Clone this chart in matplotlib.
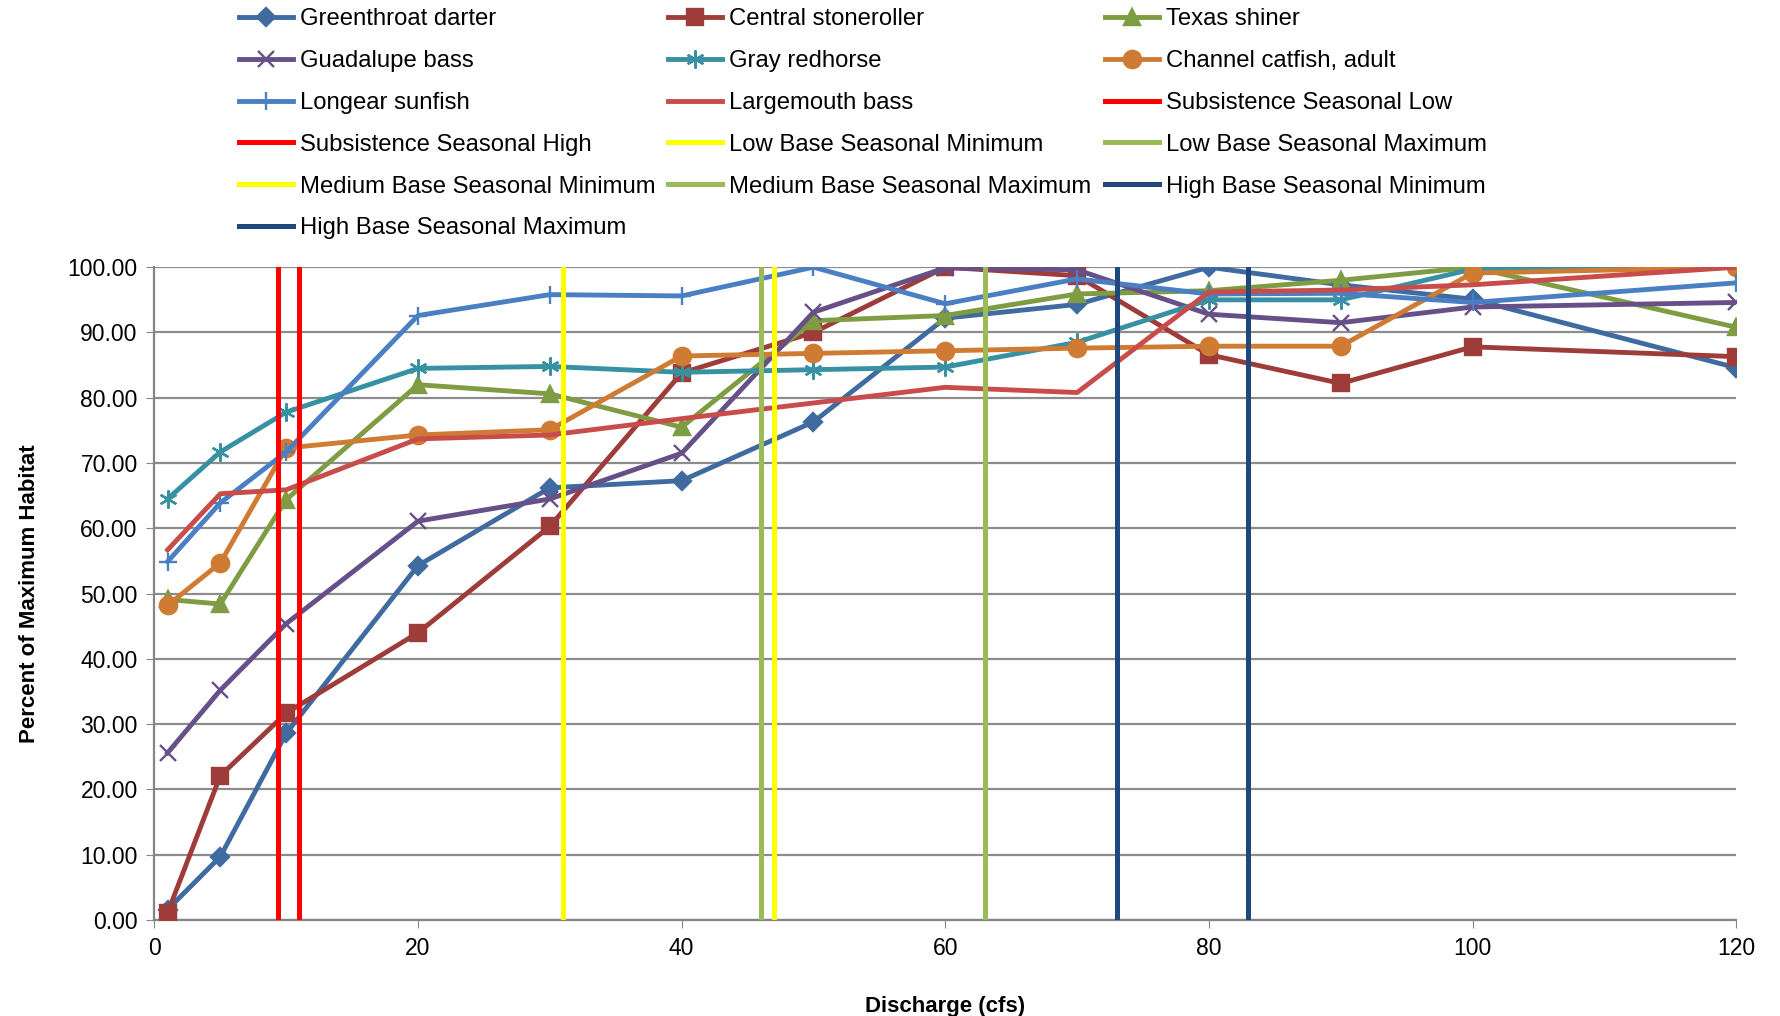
import matplotlib.pyplot as plt

plt.rcParams['font.family'] = ['Liberation Sans', 'DejaVu Sans']

discharge = [1, 5, 10, 20, 30, 40, 50, 60, 70, 80, 90, 100, 120]

greenthroat_darter = [1.6, 9.7, 28.6, 54.3, 66.2, 67.3, 76.3, 92.2, 94.3, 100.0, 97.3, 95.1, 84.6]
central_stoneroller = [1.1, 22.1, 31.7, 44.0, 60.3, 83.8, 90.0, 100.0, 98.7, 86.6, 82.2, 87.8, 86.3]
texas_shiner = [49.1, 48.4, 64.4, 82.0, 80.6, 75.5, 91.8, 92.6, 95.9, 96.4, 98.0, 100.0, 90.8]
guadalupe_bass = [25.6, 35.2, 45.4, 61.1, 64.5, 71.5, 93.1, 99.9, 99.6, 92.8, 91.5, 93.9, 94.6]
gray_redhorse = [64.5, 71.7, 77.8, 84.5, 84.8, 83.9, 84.3, 84.7, 88.5, 95.0, 95.0, 99.7, 100.0]
channel_catfish = [48.2, 54.7, 72.3, 74.3, 75.1, 86.4, 86.8, 87.2, 87.6, 87.9, 87.9, 99.1, 100.0]
longear_sunfish = [54.9, 63.9, 71.7, 92.6, 95.8, 95.6, 100.0, 94.4, 98.2, 95.9, 96.0, 94.6, 97.6]
largemouth_bass = [56.7, 65.3, 65.9, 73.7, 74.3, 76.8, 79.2, 81.6, 80.8, 96.2, 96.5, 97.3, 100.0]

species_names = ['Greenthroat darter', 'Central stoneroller', 'Texas shiner',
                 'Guadalupe bass', 'Gray redhorse', 'Channel catfish, adult',
                 'Longear sunfish', 'Largemouth bass']
species_values = [greenthroat_darter, central_stoneroller, texas_shiner,
                  guadalupe_bass, gray_redhorse, channel_catfish,
                  longear_sunfish, largemouth_bass]
species_colors = ['#3F6BA1', '#9E3C3A', '#7E9C42', '#674F88',
                  '#3890A3', '#D07B34', '#4A80C3', '#C84C4A']
species_markers = ['D', 's', '^', 'x', (6, 2, 0), 'o', '+', None]
marker_sizes = [9.5, 11.5, 11.5, 12, 13, 12.5, 13, 0]

flow_names = ['Subsistence Seasonal Low', 'Subsistence Seasonal High',
              'Low Base Seasonal Minimum', 'Low Base Seasonal Maximum',
              'Medium Base Seasonal Minimum', 'Medium Base Seasonal Maximum',
              'High Base Seasonal Minimum', 'High Base Seasonal Maximum']
flow_values = [9.4, 11, 31, 46, 47, 63, 73, 83]
flow_colors = ['#FF0000', '#FF0000', '#FFFF00', '#9BBB59',
               '#FFFF00', '#9BBB59', '#1F497D', '#1F497D']

fig = plt.figure(figsize=(17.81, 10.16), dpi=100)
ax = fig.add_axes([0.0867, 0.0945, 0.8881, 0.6425])

handles = []
for name, vals, c, m, ms in zip(species_names, species_values, species_colors,
                                species_markers, marker_sizes):
    h, = ax.plot(discharge, vals, color=c, lw=3.5, marker=m, markersize=ms,
                 markeredgewidth=1.7, label=name, zorder=3)
    handles.append(h)

for name, v, c in zip(flow_names, flow_values, flow_colors):
    h, = ax.plot([v, v], [0, 100], color=c, lw=3.6, label=name, zorder=4)
    handles.append(h)

ax.set_xlim(0, 120)
ax.set_ylim(0, 100)
ax.set_xticks(range(0, 121, 20))
ax.set_yticks(range(0, 101, 10))
ax.set_yticklabels([f'{v:.2f}' for v in range(0, 101, 10)])
ax.tick_params(labelsize=16.5, length=6, color='#868686', pad=6)
ax.grid(axis='y', color='#8C8C8C', lw=1.6)
ax.set_axisbelow(True)
for s in ['top', 'right']:
    ax.spines[s].set_visible(False)
for s in ['left', 'bottom']:
    ax.spines[s].set_color('#868686')
    ax.spines[s].set_linewidth(1.6)

ax.set_xlabel('Discharge (cfs)', fontsize=16, fontweight='bold', labelpad=26)
ax.set_ylabel('Percent of Maximum Habitat', fontsize=16, fontweight='bold', labelpad=20)

# Excel fills legend rows first; matplotlib fills columns first
order = [0, 3, 6, 9, 12, 15, 1, 4, 7, 10, 13, 2, 5, 8, 11, 14]
fig.legend([handles[i] for i in order], [handles[i].get_label() for i in order],
           ncol=3, loc='upper left', bbox_to_anchor=(0.122, 1.013),
           frameon=False, fontsize=17.2, handlelength=2.25, handletextpad=0.3,
           columnspacing=0.55, labelspacing=0.83)

plt.savefig('out.png', dpi=100)
